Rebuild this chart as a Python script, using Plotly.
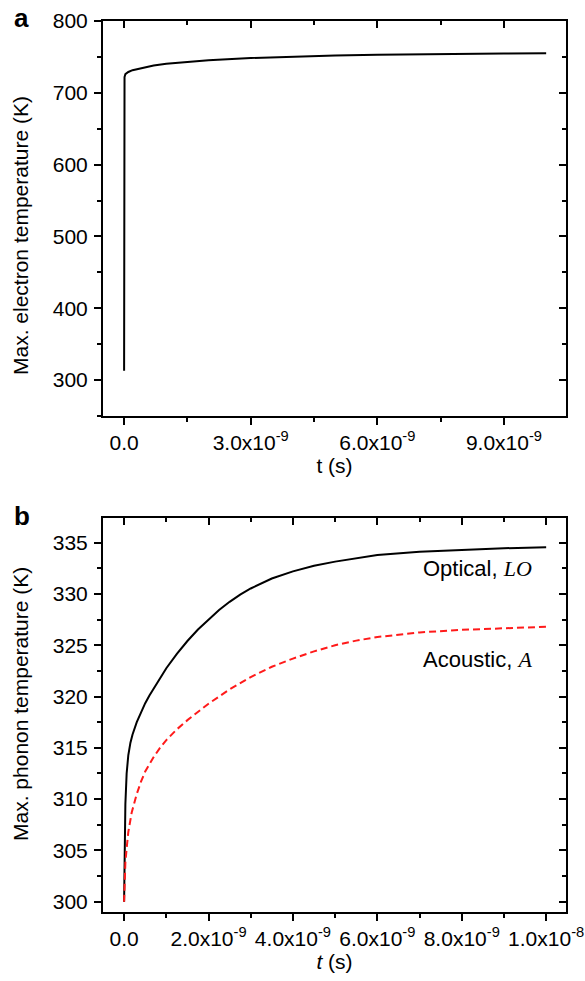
import plotly.graph_objects as go

# ---- data -------------------------------------------------------------
# (a) maximum electron temperature vs time
t_electron = [0, 0.002e-9, 0.01e-9, 0.03e-9, 0.1e-9, 0.2e-9, 0.4e-9, 0.7e-9,
              1.0e-9, 1.5e-9, 2.0e-9, 3.0e-9, 4.0e-9, 5.0e-9, 6.0e-9, 7.0e-9,
              8.0e-9, 9.0e-9, 10.0e-9]
T_electron = [313, 600, 722, 726, 729, 731.5, 734.5, 738,
              740.5, 743.5, 745.5, 748.5, 750.5, 752, 753, 753.8,
              754.3, 754.7, 755]

# (b) maximum phonon temperatures vs time
t_optical = [0, 0.01e-9, 0.03e-9, 0.06e-9, 0.1e-9, 0.15e-9, 0.2e-9, 0.3e-9,
             0.4e-9, 0.5e-9, 0.6e-9, 0.8e-9, 1.0e-9, 1.25e-9, 1.5e-9, 1.75e-9,
             2.0e-9, 2.25e-9, 2.5e-9, 2.75e-9, 3.0e-9, 3.5e-9, 4.0e-9, 4.5e-9,
             5.0e-9, 5.5e-9, 6.0e-9, 7.0e-9, 8.0e-9, 9.0e-9, 10.0e-9]
T_optical = [300, 305, 309.5, 312.5, 314.3, 315.5, 316.3, 317.5,
             318.5, 319.35, 320.1, 321.5, 322.76, 324.16, 325.41, 326.53,
             327.53, 328.43, 329.23, 329.93, 330.53, 331.5, 332.2, 332.75,
             333.15, 333.5, 333.8, 334.1, 334.3, 334.45, 334.55]

t_acoustic = [0, 0.01e-9, 0.03e-9, 0.06e-9, 0.1e-9, 0.18e-9, 0.3e-9, 0.4e-9,
              0.5e-9, 0.7e-9, 0.85e-9, 1.0e-9, 1.25e-9, 1.5e-9, 1.75e-9,
              2.0e-9, 2.5e-9, 3.0e-9, 3.5e-9, 4.0e-9, 4.5e-9, 5.0e-9, 5.5e-9,
              6.0e-9, 7.0e-9, 8.0e-9, 9.0e-9, 10.0e-9]
T_acoustic = [300, 302, 303.8, 305.2, 306.8, 308.7, 310.5, 311.7,
              312.7, 314.1, 315.0, 315.75, 316.8, 317.7, 318.5,
              319.3, 320.7, 321.9, 322.9, 323.7, 324.4, 325.0, 325.45,
              325.8, 326.25, 326.5, 326.65, 326.8]

# tick values / labels
xa_ticks = [0, 3e-9, 6e-9, 9e-9]
xa_labels = ["0.0", "3.0x10<sup>-9</sup>", "6.0x10<sup>-9</sup>", "9.0x10<sup>-9</sup>"]
xa_minor = [1.5e-9, 4.5e-9, 7.5e-9]
ya_ticks = [300, 400, 500, 600, 700, 800]
ya_minor = [250, 350, 450, 550, 650, 750]

xb_ticks = [0, 2e-9, 4e-9, 6e-9, 8e-9, 1e-8]
xb_labels = ["0.0", "2.0x10<sup>-9</sup>", "4.0x10<sup>-9</sup>",
             "6.0x10<sup>-9</sup>", "8.0x10<sup>-9</sup>", "1.0x10<sup>-8</sup>"]
xb_minor = [1e-9, 3e-9, 5e-9, 7e-9, 9e-9]
yb_ticks = [300, 305, 310, 315, 320, 325, 330, 335]
yb_minor = [302.5, 307.5, 312.5, 317.5, 322.5, 327.5, 332.5]

X_RANGE = [-0.5e-9, 10.47e-9]
YA_RANGE = [250, 800]
YB_RANGE = [299.0, 337.4]

# ---- styling ----------------------------------------------------------
FONT = "Liberation Sans, Arial, sans-serif"
SERIF = "Liberation Serif, Times New Roman, serif"
FS = 21
W, H = 585, 981
ML, MR, MT, MB = 103, 19, 21, 69
plot_w = W - ML - MR
plot_h = H - MT - MB
dom_a = [(912 - 416) / plot_h, 1.0]
dom_b = [0.0, (912 - 518) / plot_h]


def px_x(px):
    return (px - ML) / plot_w


def px_y(py):
    return (H - MB - py) / plot_h


LINE_W = 2
TICK_W = 1.6

fig = go.Figure()

fig.add_trace(go.Scatter(x=t_electron, y=T_electron, mode="lines",
                         line=dict(color="black", width=2),
                         xaxis="x", yaxis="y", showlegend=False))
fig.add_trace(go.Scatter(x=t_optical, y=T_optical, mode="lines",
                         line=dict(color="black", width=2),
                         xaxis="x2", yaxis="y2", showlegend=False))
fig.add_trace(go.Scatter(x=t_acoustic, y=T_acoustic, mode="lines",
                         line=dict(color="#ff1a1a", width=2, dash="7px,4px"),
                         xaxis="x2", yaxis="y2", showlegend=False))

# empty traces so the mirrored (inward) top/right tick axes get drawn
for xa, ya in (("x3", "y3"), ("x4", "y4")):
    fig.add_trace(go.Scatter(x=[], y=[], mode="lines", xaxis=xa, yaxis=ya,
                             showlegend=False, hoverinfo="skip"))


def main_x(ticks, labels, minor, anchor, title):
    return dict(
        range=X_RANGE, anchor=anchor, domain=[0, 1],
        tickmode="array", tickvals=ticks, ticktext=labels,
        ticks="outside", ticklen=7, tickwidth=TICK_W, tickcolor="black",
        minor=dict(tickmode="array", tickvals=minor, ticks="outside",
                   ticklen=4, tickwidth=TICK_W, tickcolor="black"),
        showline=True, linecolor="black", linewidth=LINE_W, mirror=True,
        showgrid=False, zeroline=False,
        tickfont=dict(family=FONT, size=FS, color="black"),
        title=dict(text=title, font=dict(family=FONT, size=FS, color="black"),
                   standoff=4),
    )


def main_y(ticks, minor, rng, domain, anchor):
    return dict(
        range=rng, domain=domain, anchor=anchor,
        tickmode="array", tickvals=ticks,
        ticks="outside", ticklen=7, tickwidth=TICK_W, tickcolor="black",
        minor=dict(tickmode="array", tickvals=minor, ticks="outside",
                   ticklen=4, tickwidth=TICK_W, tickcolor="black"),
        showline=True, linecolor="black", linewidth=LINE_W, mirror=True,
        showgrid=False, zeroline=False,
        tickfont=dict(family=FONT, size=FS, color="black"),
        ticklabelstandoff=2,
    )


def mirror_x(ticks, minor, overlay, anchor):
    return dict(
        range=X_RANGE, overlaying=overlay, side="top", anchor=anchor,
        tickmode="array", tickvals=ticks, showticklabels=False,
        ticks="inside", ticklen=7, tickwidth=TICK_W, tickcolor="black",
        minor=dict(tickmode="array", tickvals=minor, ticks="inside",
                   ticklen=4, tickwidth=TICK_W, tickcolor="black"),
        showline=False, showgrid=False, zeroline=False,
    )


def mirror_y(ticks, minor, rng, overlay, anchor):
    return dict(
        range=rng, overlaying=overlay, side="right", anchor=anchor,
        tickmode="array", tickvals=ticks, showticklabels=False,
        ticks="inside", ticklen=7, tickwidth=TICK_W, tickcolor="black",
        minor=dict(tickmode="array", tickvals=minor, ticks="inside",
                   ticklen=4, tickwidth=TICK_W, tickcolor="black"),
        showline=False, showgrid=False, zeroline=False,
    )


fig.update_layout(
    width=W, height=H,
    margin=dict(l=ML, r=MR, t=MT, b=MB, autoexpand=False),
    paper_bgcolor="white", plot_bgcolor="white",
    font=dict(family=FONT, size=FS, color="black"),
    xaxis=main_x(xa_ticks, xa_labels, xa_minor, "y", "t (s)"),
    yaxis=main_y(ya_ticks, ya_minor, YA_RANGE, dom_a, "x"),
    xaxis2=main_x(xb_ticks, xb_labels, xb_minor, "y2", "<i>t</i> (s)"),
    yaxis2=main_y(yb_ticks, yb_minor, YB_RANGE, dom_b, "x2"),
    xaxis3=mirror_x(xa_ticks, xa_minor, "x", "y3"),
    yaxis3=mirror_y(ya_ticks, ya_minor, YA_RANGE, "y", "x3"),
    xaxis4=mirror_x(xb_ticks, xb_minor, "x2", "y4"),
    yaxis4=mirror_y(yb_ticks, yb_minor, YB_RANGE, "y2", "x4"),
)

# vertical axis titles
fig.add_annotation(text="Max. electron temperature (K)", textangle=-90,
                   xref="paper", yref="paper", x=px_x(20), y=px_y(236),
                   xanchor="center", yanchor="middle", showarrow=False,
                   font=dict(family=FONT, size=FS, color="black"))
fig.add_annotation(text="Max. phonon temperature (K)", textangle=-90,
                   xref="paper", yref="paper", x=px_x(20), y=px_y(704),
                   xanchor="center", yanchor="middle", showarrow=False,
                   font=dict(family=FONT, size=FS, color="black"))

# panel letters
fig.add_annotation(text="<b>a</b>", xref="paper", yref="paper",
                   x=px_x(21), y=px_y(18), xanchor="center", yanchor="middle",
                   showarrow=False, font=dict(family=FONT, size=26, color="black"))
fig.add_annotation(text="<b>b</b>", xref="paper", yref="paper",
                   x=px_x(22), y=px_y(516), xanchor="center", yanchor="middle",
                   showarrow=False, font=dict(family=FONT, size=26, color="black"))

# curve labels
fig.add_annotation(
    text="Optical, <span style='font-family:" + SERIF + "'><i>LO</i></span>",
    x=9.7e-9, y=332.5, xref="x2", yref="y2", xanchor="right", yanchor="middle",
    showarrow=False, font=dict(family=FONT, size=22, color="black"))
fig.add_annotation(
    text="Acoustic, <span style='font-family:" + SERIF + "'><i>A</i></span>",
    x=9.7e-9, y=323.6, xref="x2", yref="y2", xanchor="right", yanchor="middle",
    showarrow=False, font=dict(family=FONT, size=22, color="black"))

fig.write_html("out.html")
